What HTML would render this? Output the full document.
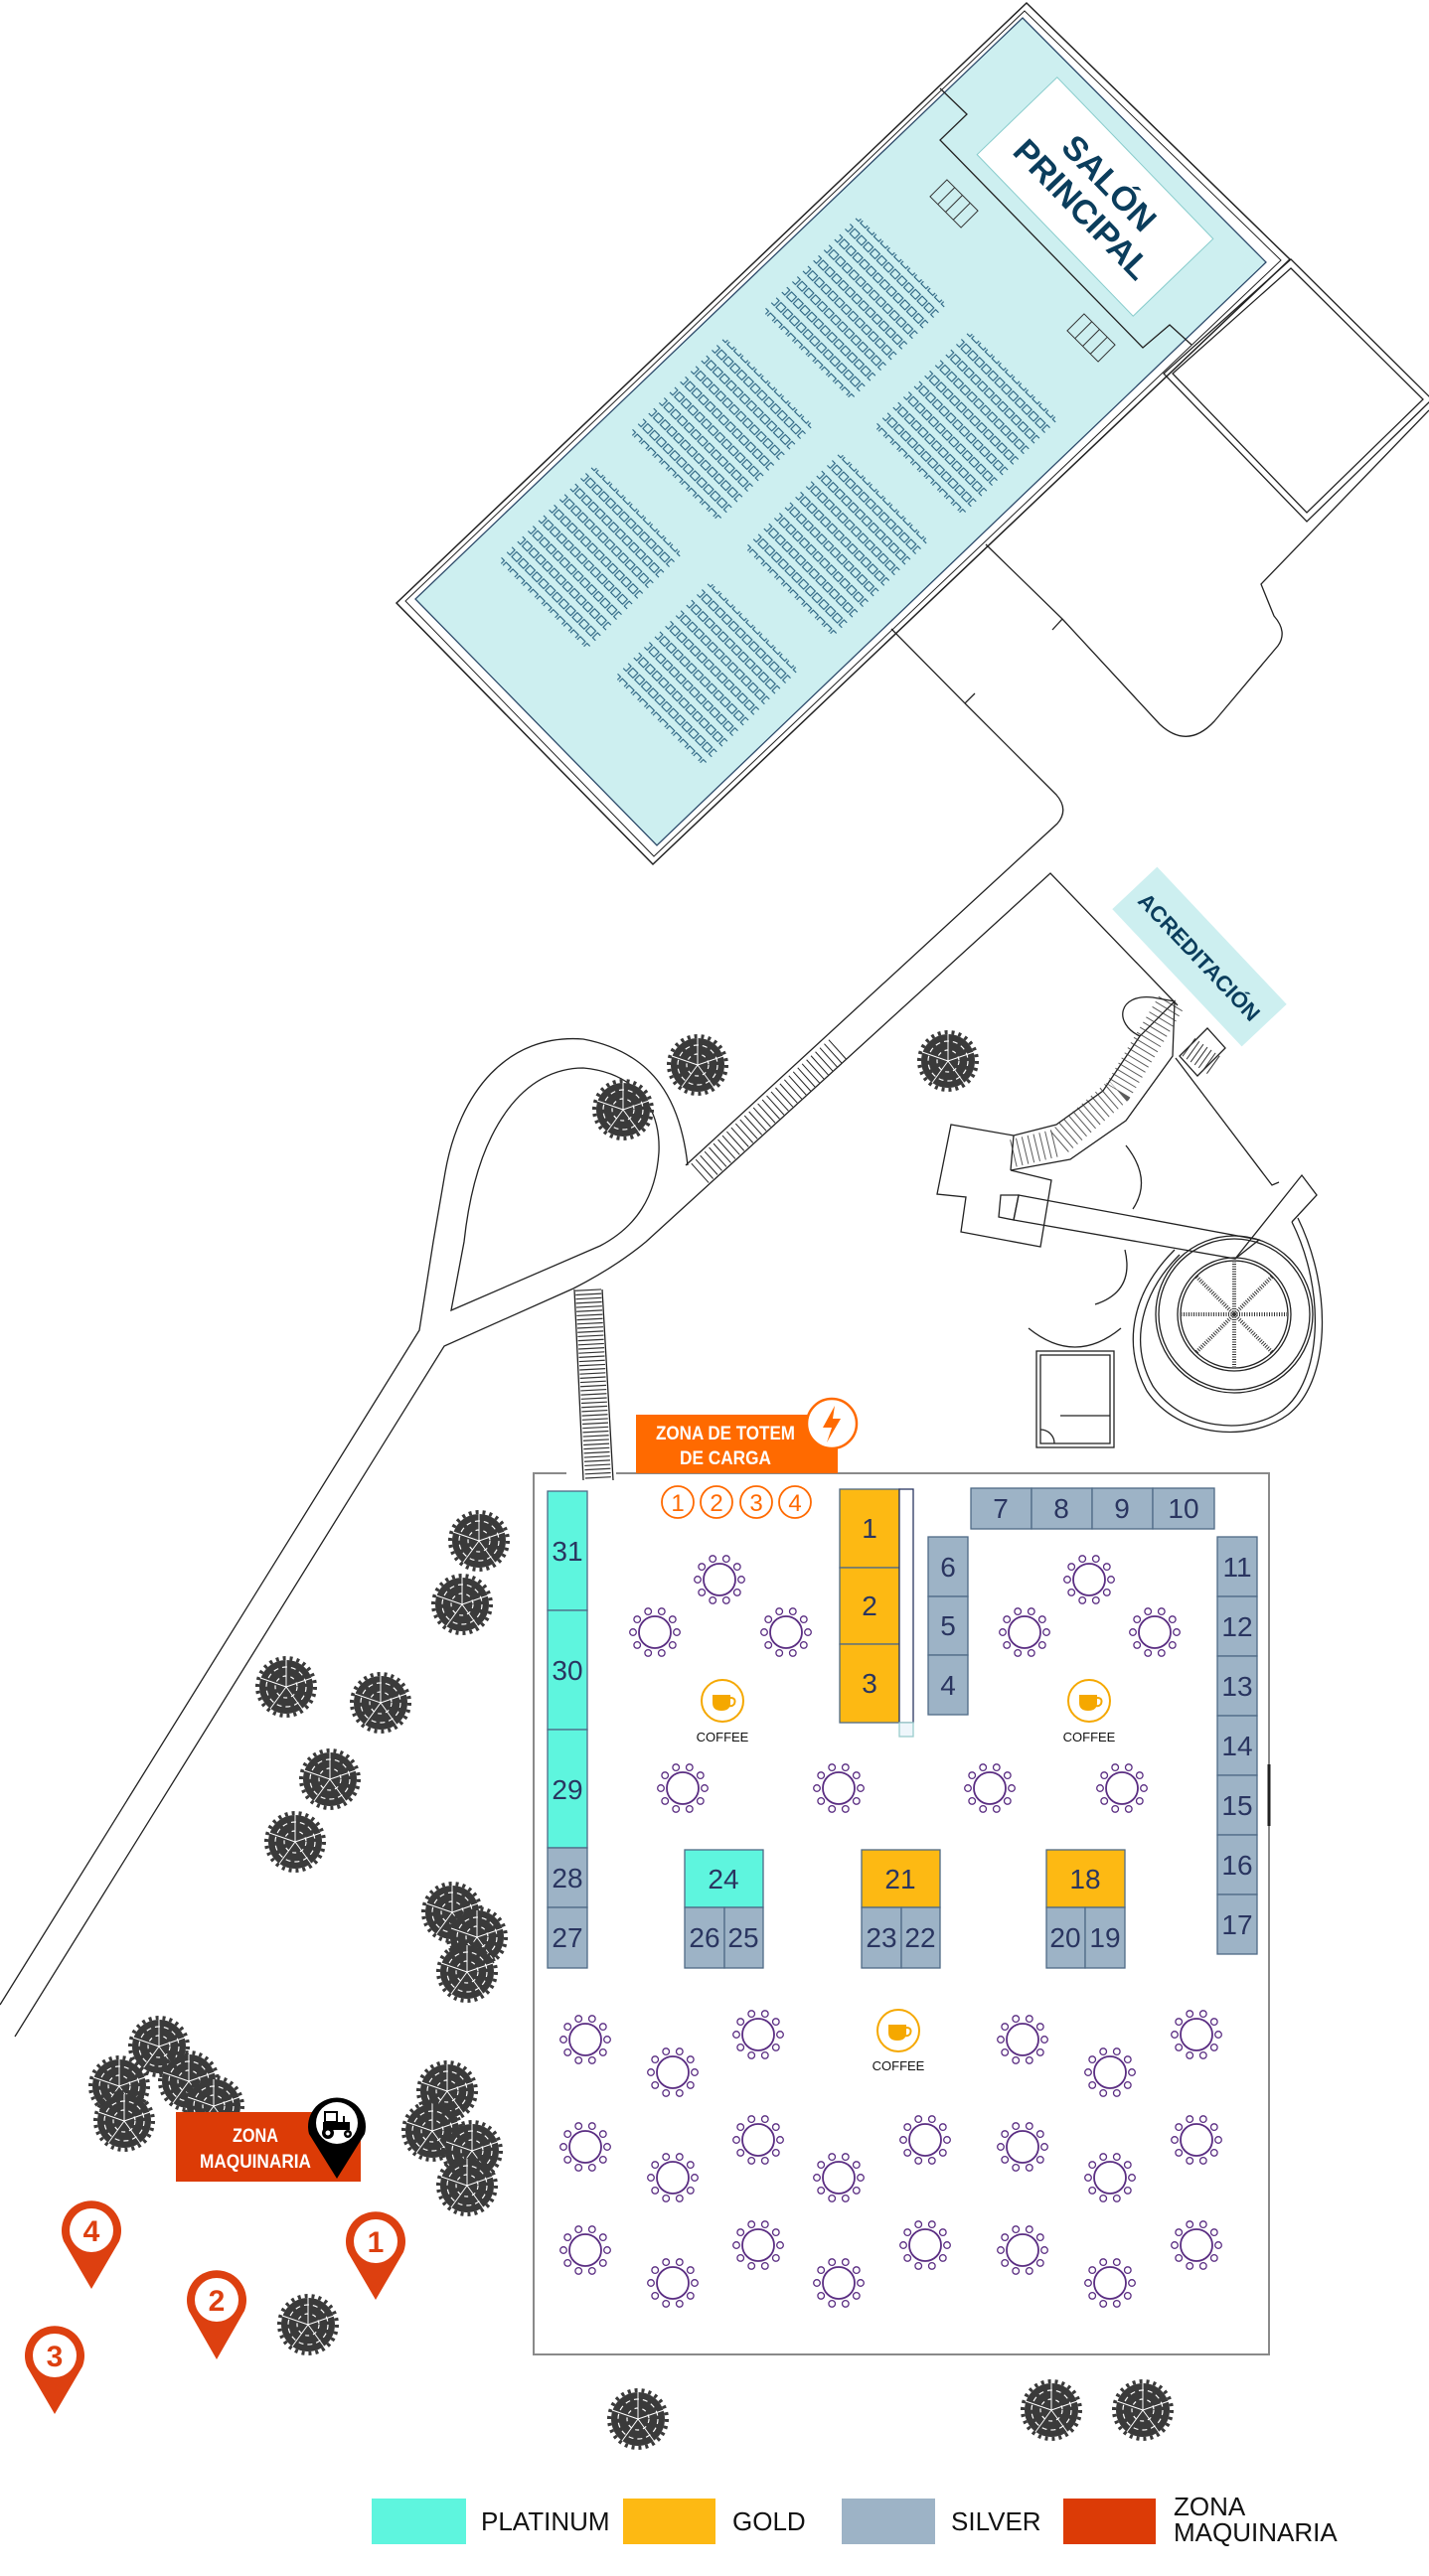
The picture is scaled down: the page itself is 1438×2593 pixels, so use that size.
<!DOCTYPE html>
<html><head><meta charset="utf-8"><style>
html,body{margin:0;padding:0;background:#fff;}
svg{display:block;}
.n{font-family:"Liberation Sans Narrow","Liberation Sans",sans-serif;fill:#2a3560;font-size:28px;text-anchor:middle;}
.w{font-family:"Liberation Sans Narrow","Liberation Sans",sans-serif;fill:#fff;font-weight:bold;text-anchor:middle;}
.l{font-family:"Liberation Sans Narrow","Liberation Sans",sans-serif;fill:#111;font-size:26px;}
.c{font-family:"Liberation Sans Narrow","Liberation Sans",sans-serif;fill:#111;font-size:13px;text-anchor:middle;}
.ln{fill:none;stroke:#222;stroke-width:1.3;}
</style></head><body>
<svg width="1438" height="2593" viewBox="0 0 1438 2593" xmlns="http://www.w3.org/2000/svg">
<defs>
<pattern id="seat" patternUnits="userSpaceOnUse" width="9.6" height="15">
<rect x="1.3" y="3.5" width="7" height="7" fill="none" stroke="#27607f" stroke-width="1.1"/>
</pattern>
<g id="tbl">
<circle r="16" fill="#fff" stroke="#5a2d82" stroke-width="1.8"/>
<g fill="#fff" stroke="#5a2d82" stroke-width="1.3">
<circle cx="22" cy="0" r="3.3"/><circle cx="17.8" cy="12.9" r="3.3"/><circle cx="6.8" cy="20.9" r="3.3"/><circle cx="-6.8" cy="20.9" r="3.3"/><circle cx="-17.8" cy="12.9" r="3.3"/><circle cx="-22" cy="0" r="3.3"/><circle cx="-17.8" cy="-12.9" r="3.3"/><circle cx="-6.8" cy="-20.9" r="3.3"/><circle cx="6.8" cy="-20.9" r="3.3"/><circle cx="17.8" cy="-12.9" r="3.3"/>
</g></g>
<g id="tree">
<circle r="27" fill="#3a3a3a"/>
<circle r="29" fill="none" stroke="#3a3a3a" stroke-width="4" stroke-dasharray="3 4"/>
<circle r="20" fill="none" stroke="#fff" stroke-width="1.2" stroke-dasharray="5 4"/>
<circle r="11" fill="none" stroke="#fff" stroke-width="1.2" stroke-dasharray="4 4"/>
<path d="M0 0L0-27M0 0L26-9M0 0L16 22M0 0L-16 22M0 0L-26-9" stroke="#fff" stroke-width="1"/>
</g>
<g id="cof">
<circle r="21" fill="#fff" stroke="#f5a800" stroke-width="2"/>
<path d="M-10 -6 H8 V2 Q8 10 -1 10 Q-10 10 -10 2 Z" fill="#f5a800"/>
<path d="M8 -3 Q14 -3 12 3 Q10 6 7 5" fill="none" stroke="#f5a800" stroke-width="2"/>
</g>
</defs>

<!-- SALON -->
<polygon points="1033,3 1298,261 657,870 399,607" fill="#fff" stroke="#222" stroke-width="1.5"/>
<polygon points="1031,11 1289,262 658,862 408,605" fill="none" stroke="#222" stroke-width="1"/>
<polygon points="1029,18 1274,264 661,851 418,603" fill="#cdeff0" stroke="#2d4a6a" stroke-width="1.3"/>
<polyline points="946,89 973,115 946,141 1150,350 1177,327 1199,347" class="ln"/>
<g transform="translate(960,205) rotate(45)"><rect x="-22" y="-12" width="44" height="24" fill="none" stroke="#333"/><path d="M-11-12V12M0-12V12M11-12V12" stroke="#333"/></g>
<g transform="translate(1098,340) rotate(45)"><rect x="-22" y="-12" width="44" height="24" fill="none" stroke="#333"/><path d="M-11-12V12M0-12V12M11-12V12" stroke="#333"/></g>
<g transform="translate(860,310) rotate(45)"><rect x="-63" y="-68" width="126" height="136" fill="url(#seat)"/></g>
<g transform="translate(726,432) rotate(45)"><rect x="-63" y="-68" width="126" height="136" fill="url(#seat)"/></g>
<g transform="translate(594,561) rotate(45)"><rect x="-63" y="-68" width="126" height="136" fill="url(#seat)"/></g>
<g transform="translate(972,426) rotate(45)"><rect x="-63" y="-68" width="126" height="136" fill="url(#seat)"/></g>
<g transform="translate(842,548) rotate(45)"><rect x="-63" y="-68" width="126" height="136" fill="url(#seat)"/></g>
<g transform="translate(711,678) rotate(45)"><rect x="-63" y="-68" width="126" height="136" fill="url(#seat)"/></g>
<g transform="translate(1102,198) rotate(46)">
<rect x="-113" y="-56" width="226" height="112" fill="#fff" stroke="#8cc" stroke-width="1"/>
<text x="0" y="-8" class="w" style="fill:#0b3d5c;font-size:34px">SALÓN</text>
<text x="0" y="30" class="w" style="fill:#0b3d5c;font-size:34px">PRINCIPAL</text>
</g>

<!-- right rooms -->
<polygon points="1299,261 1441,402 1315,525 1171,376" class="ln"/>
<polygon points="1299,270 1432,402 1315,516 1180,376" class="ln" stroke-width="0.8"/>
<path d="M992,548 L1069,623 L1059,634 M1069,623 L1167,729 Q1195,755 1222,726 L1286,650 Q1296,636 1282,620 L1269,588 L1438,413" class="ln"/>
<path d="M897,633 L971,708 L981,698 M971,708 L1063,800 Q1076,815 1064,829 L690,1173" class="ln"/>
<path d="M1185,1012 L1057,879 L650,1250 Q620,1275 577,1297 L447,1355 L15,2050" class="ln"/>
<line x1="843" y1="1056" x2="701" y2="1184" stroke="#222" stroke-width="26" stroke-dasharray="1 5"/>
<path d="M692,1173 C685,1110 660,1060 587,1046 C510,1040 462,1100 448,1180 L436,1250 L422,1339 L0,2018" class="ln"/>
<path d="M454,1319 L467,1250 C480,1130 530,1075 587,1075 C640,1080 665,1115 663,1160 C660,1205 640,1235 604,1254 Z" class="ln"/>
<line x1="592" y1="1298" x2="602" y2="1490" stroke="#333" stroke-width="26" stroke-dasharray="1.2 3"/>
<path d="M578,1298 L587,1490 M606,1298 L617,1490" class="ln"/>

<!-- accreditation area -->
<path d="M1183,1065 L1280,1193 L1287,1190" class="ln"/>
<path d="M1182,1008 L1147,1043 L1110,1098 L1063,1132 L1020,1143 L957,1132 L943,1202 L972,1205 L967,1240 L1047,1255 L1058,1188 L1017,1178 L1077,1167 L1133,1128 L1180,1063 Z" class="ln"/>
<line x1="1020" y1="1143" x2="1017" y2="1178" class="ln"/>
<path d="M1178,1010 L1125,1098 L1065,1150 L1015,1162" fill="none" stroke="#333" stroke-width="28" stroke-dasharray="1 5" opacity="0.8"/>
<path d="M1147,1043 C1120,1030 1125,1000 1160,1004 L1182,1008" class="ln"/>
<path d="M1187,1063 L1215,1035 L1233,1055 L1205,1083 Z" class="ln"/>
<line x1="1196" y1="1054" x2="1224" y2="1074" stroke="#333" stroke-width="22" stroke-dasharray="1 4"/>
<path d="M1025,1203 L1267,1248 L1243,1267 L1020,1228 Z" class="ln"/>
<path d="M1007,1203 L1025,1203 L1020,1228 L1005,1225 Z" class="ln"/>
<path d="M1243,1267 L1310,1183 L1325,1203 L1300,1230" class="ln"/>
<circle cx="1242" cy="1323" r="57" class="ln"/>
<circle cx="1242" cy="1323" r="54" class="ln"/>
<circle cx="1242" cy="1323" r="79" class="ln"/>
<circle cx="1242" cy="1323" r="76" class="ln"/>
<path d="M1187,1263 C1150,1300 1135,1350 1160,1395 C1190,1440 1255,1445 1290,1420 C1330,1390 1335,1300 1300,1230" class="ln"/>
<path d="M1182,1258 C1140,1300 1128,1352 1154,1400 C1186,1448 1258,1452 1296,1424 C1338,1392 1342,1300 1306,1226" class="ln"/>
<g stroke="#333" stroke-width="4" stroke-dasharray="1 1.5">
<path d="M1242,1323 L1242,1270 M1242,1323 L1280,1285 M1242,1323 L1295,1323 M1242,1323 L1280,1361 M1242,1323 L1242,1376 M1242,1323 L1204,1361 M1242,1323 L1189,1323 M1242,1323 L1204,1285"/>
</g>
<path d="M1133,1153 Q1160,1187 1140,1217" class="ln"/>
<path d="M1132,1258 Q1142,1300 1102,1313" class="ln"/>
<path d="M1035,1337 Q1082,1375 1128,1337" class="ln"/>
<rect x="1043" y="1360" width="78" height="97" class="ln"/>
<rect x="1047" y="1364" width="70" height="89" class="ln" stroke-width="0.8"/>
<path d="M1067,1425 H1117 M1047,1439 A14 14 0 0 1 1061 1453" class="ln"/>
<g transform="translate(1207,963) rotate(46.7)">
<rect x="-95" y="-31" width="190" height="62" fill="#cdeff0"/>
<text x="0" y="8" class="w" style="fill:#0b3d5c;font-size:22px">ACREDITACIÓN</text>
</g>

<!-- trees -->
<use href="#tree" x="702" y="1072"/><use href="#tree" x="627" y="1117"/><use href="#tree" x="954" y="1068"/>
<use href="#tree" x="482" y="1551"/><use href="#tree" x="465" y="1615"/><use href="#tree" x="288" y="1698"/><use href="#tree" x="383" y="1714"/><use href="#tree" x="332" y="1791"/><use href="#tree" x="297" y="1854"/>
<use href="#tree" x="455" y="1925"/><use href="#tree" x="480" y="1950"/><use href="#tree" x="470" y="1985"/>
<use href="#tree" x="160" y="2060"/><use href="#tree" x="120" y="2100"/><use href="#tree" x="190" y="2095"/><use href="#tree" x="125" y="2135"/><use href="#tree" x="215" y="2120"/>
<use href="#tree" x="450" y="2105"/><use href="#tree" x="435" y="2145"/><use href="#tree" x="475" y="2165"/><use href="#tree" x="470" y="2200"/>
<use href="#tree" x="310" y="2340"/><use href="#tree" x="642" y="2435"/><use href="#tree" x="1058" y="2426"/><use href="#tree" x="1150" y="2426"/>

<!-- HALL -->
<path d="M570,1483 H537 V2370 H1277 V1483 H620" fill="none" stroke="#8a8a8a" stroke-width="2"/>
<line x1="1277" y1="1776" x2="1277" y2="1838" stroke="#222" stroke-width="3"/>
<rect x="640" y="1424" width="203" height="59" fill="#ff6a00"/>
<text x="730" y="1449" class="w" style="font-size:19px" textLength="140" lengthAdjust="spacingAndGlyphs">ZONA DE TOTEM</text>
<text x="730" y="1474" class="w" style="font-size:19px" textLength="92" lengthAdjust="spacingAndGlyphs">DE CARGA</text>
<circle cx="837" cy="1433" r="25" fill="#fff" stroke="#ff6a00" stroke-width="2.5"/>
<path d="M840,1415 L828,1437 L837,1437 L832,1452 L846,1428 L838,1428 Z" fill="#ff6a00"/>
<g fill="#fff" stroke="#ff6a00" stroke-width="1.8">
<circle cx="682" cy="1512" r="16"/><circle cx="721" cy="1512" r="16"/><circle cx="761" cy="1512" r="16"/><circle cx="800" cy="1512" r="16"/></g>
<text x="682" y="1521" class="n" style="fill:#ff6a00;font-size:24px">1</text><text x="721" y="1521" class="n" style="fill:#ff6a00;font-size:24px">2</text><text x="761" y="1521" class="n" style="fill:#ff6a00;font-size:24px">3</text><text x="800" y="1521" class="n" style="fill:#ff6a00;font-size:24px">4</text>

<!-- booths -->
<g stroke="#4f6a86" stroke-width="1.3">
<rect x="551" y="1501" width="40" height="120" fill="#5ef5de"/><rect x="551" y="1621" width="40" height="120" fill="#5ef5de"/><rect x="551" y="1741" width="40" height="119" fill="#5ef5de"/>
<rect x="551" y="1860" width="40" height="60" fill="#9db3c6"/><rect x="551" y="1920" width="40" height="61" fill="#9db3c6"/>
<rect x="845" y="1499" width="60" height="79" fill="#fdb913"/><rect x="845" y="1578" width="60" height="77" fill="#fdb913"/><rect x="845" y="1655" width="60" height="79" fill="#fdb913"/>
<rect x="905" y="1499" width="14" height="235" fill="#fff" stroke="#2a3560"/>
<rect x="905" y="1734" width="14" height="14" fill="#eef6fb" stroke="#9cc"/>
<rect x="977" y="1498" width="61" height="41" fill="#9db3c6"/><rect x="1038" y="1498" width="61" height="41" fill="#9db3c6"/><rect x="1099" y="1498" width="61" height="41" fill="#9db3c6"/><rect x="1160" y="1498" width="62" height="41" fill="#9db3c6"/>
<rect x="934" y="1547" width="40" height="60" fill="#9db3c6"/><rect x="934" y="1607" width="40" height="59" fill="#9db3c6"/><rect x="934" y="1666" width="40" height="60" fill="#9db3c6"/>
<rect x="1225" y="1547" width="40" height="60" fill="#9db3c6"/><rect x="1225" y="1607" width="40" height="60" fill="#9db3c6"/><rect x="1225" y="1667" width="40" height="60" fill="#9db3c6"/><rect x="1225" y="1727" width="40" height="60" fill="#9db3c6"/><rect x="1225" y="1787" width="40" height="60" fill="#9db3c6"/><rect x="1225" y="1847" width="40" height="60" fill="#9db3c6"/><rect x="1225" y="1907" width="40" height="60" fill="#9db3c6"/>
<rect x="689" y="1862" width="79" height="58" fill="#5ef5de"/><rect x="689" y="1920" width="40" height="61" fill="#9db3c6"/><rect x="729" y="1920" width="39" height="61" fill="#9db3c6"/>
<rect x="867" y="1862" width="79" height="58" fill="#fdb913"/><rect x="867" y="1920" width="40" height="61" fill="#9db3c6"/><rect x="907" y="1920" width="39" height="61" fill="#9db3c6"/>
<rect x="1053" y="1862" width="79" height="58" fill="#fdb913"/><rect x="1053" y="1920" width="39" height="61" fill="#9db3c6"/><rect x="1092" y="1920" width="40" height="61" fill="#9db3c6"/>
</g>
<text x="571" y="1571" class="n">31</text><text x="571" y="1691" class="n">30</text><text x="571" y="1811" class="n">29</text>
<text x="571" y="1900" class="n">28</text><text x="571" y="1960" class="n">27</text>
<text x="875" y="1548" class="n">1</text><text x="875" y="1626" class="n">2</text><text x="875" y="1704" class="n">3</text>
<text x="1007" y="1528" class="n">7</text><text x="1068" y="1528" class="n">8</text><text x="1129" y="1528" class="n">9</text><text x="1191" y="1528" class="n">10</text>
<text x="954" y="1587" class="n">6</text><text x="954" y="1646" class="n">5</text><text x="954" y="1706" class="n">4</text>
<text x="1245" y="1587" class="n">11</text><text x="1245" y="1647" class="n">12</text><text x="1245" y="1707" class="n">13</text><text x="1245" y="1767" class="n">14</text><text x="1245" y="1827" class="n">15</text><text x="1245" y="1887" class="n">16</text><text x="1245" y="1947" class="n">17</text>
<text x="728" y="1901" class="n">24</text><text x="709" y="1960" class="n">26</text><text x="748" y="1960" class="n">25</text>
<text x="906" y="1901" class="n">21</text><text x="887" y="1960" class="n">23</text><text x="926" y="1960" class="n">22</text>
<text x="1092" y="1901" class="n">18</text><text x="1072" y="1960" class="n">20</text><text x="1112" y="1960" class="n">19</text>

<!-- tables -->
<use href="#tbl" x="724" y="1590"/><use href="#tbl" x="659" y="1643"/><use href="#tbl" x="791" y="1643"/>
<use href="#tbl" x="1096" y="1590"/><use href="#tbl" x="1031" y="1643"/><use href="#tbl" x="1162" y="1643"/>
<use href="#tbl" x="687" y="1800"/><use href="#tbl" x="844" y="1800"/><use href="#tbl" x="996" y="1800"/><use href="#tbl" x="1129" y="1800"/>
<use href="#tbl" x="589" y="2053"/><use href="#tbl" x="763" y="2048"/><use href="#tbl" x="1029" y="2053"/><use href="#tbl" x="1204" y="2048"/><use href="#tbl" x="677" y="2086"/><use href="#tbl" x="1117" y="2086"/>
<use href="#tbl" x="589" y="2161"/><use href="#tbl" x="763" y="2154"/><use href="#tbl" x="931" y="2154"/><use href="#tbl" x="1029" y="2161"/><use href="#tbl" x="1204" y="2154"/><use href="#tbl" x="677" y="2192"/><use href="#tbl" x="844" y="2192"/><use href="#tbl" x="1117" y="2192"/>
<use href="#tbl" x="589" y="2265"/><use href="#tbl" x="763" y="2260"/><use href="#tbl" x="931" y="2260"/><use href="#tbl" x="1029" y="2265"/><use href="#tbl" x="1204" y="2260"/><use href="#tbl" x="677" y="2298"/><use href="#tbl" x="844" y="2298"/><use href="#tbl" x="1117" y="2298"/>
<use href="#cof" x="727" y="1712"/><text x="727" y="1753" class="c">COFFEE</text>
<use href="#cof" x="1096" y="1712"/><text x="1096" y="1753" class="c">COFFEE</text>
<use href="#cof" x="904" y="2044"/><text x="904" y="2084" class="c">COFFEE</text>

<!-- zona maquinaria -->
<rect x="177" y="2126" width="186" height="70" fill="#dc3b06"/>
<text x="257" y="2156" class="w" style="font-size:19px" textLength="46" lengthAdjust="spacingAndGlyphs">ZONA</text>
<text x="257" y="2182" class="w" style="font-size:19px" textLength="112" lengthAdjust="spacingAndGlyphs">MAQUINARIA</text>
<path d="M311,2148 A29 29 0 1 1 367,2148 L339,2193 Z" fill="#000"/>
<circle cx="339" cy="2137" r="21" fill="#fff"/>
<g fill="#000"><rect x="327" y="2126" width="12" height="10" fill="none" stroke="#000" stroke-width="2"/><rect x="325" y="2136" width="27" height="8"/><circle cx="330" cy="2147" r="6" fill="#000"/><circle cx="330" cy="2147" r="2.5" fill="#fff"/><circle cx="350" cy="2148" r="4"/><circle cx="350" cy="2148" r="1.5" fill="#fff"/><rect x="345" y="2130" width="2" height="6"/></g>

<!-- pins -->
<g fill="#dd4010">
<path d="M64,2256 A30 30 0 1 1 120,2256 L92,2304 Z"/>
<path d="M350,2267 A30 30 0 1 1 406,2267 L378,2315 Z"/>
<path d="M190,2326 A30 30 0 1 1 246,2326 L218,2375 Z"/>
<path d="M27,2382 A30 30 0 1 1 83,2382 L55,2430 Z"/>
</g>
<g fill="#fff"><circle cx="92" cy="2245" r="22"/><circle cx="378" cy="2256" r="22"/><circle cx="218" cy="2315" r="22"/><circle cx="55" cy="2371" r="22"/></g>
<text x="92" y="2256" class="w" style="fill:#dd4010;font-size:30px">4</text>
<text x="378" y="2267" class="w" style="fill:#dd4010;font-size:30px">1</text>
<text x="218" y="2326" class="w" style="fill:#dd4010;font-size:30px">2</text>
<text x="55" y="2382" class="w" style="fill:#dd4010;font-size:30px">3</text>

<!-- legend -->
<rect x="374" y="2515" width="95" height="46" fill="#5ef5de"/>
<text x="484" y="2547" class="l">PLATINUM</text>
<rect x="627" y="2515" width="93" height="46" fill="#fdb913"/>
<text x="737" y="2547" class="l">GOLD</text>
<rect x="847" y="2515" width="94" height="46" fill="#9db3c6"/>
<text x="957" y="2547" class="l">SILVER</text>
<rect x="1070" y="2515" width="93" height="46" fill="#dc3b06"/>
<text x="1181" y="2532" class="l">ZONA</text>
<text x="1181" y="2558" class="l">MAQUINARIA</text>
</svg>
</body></html>
